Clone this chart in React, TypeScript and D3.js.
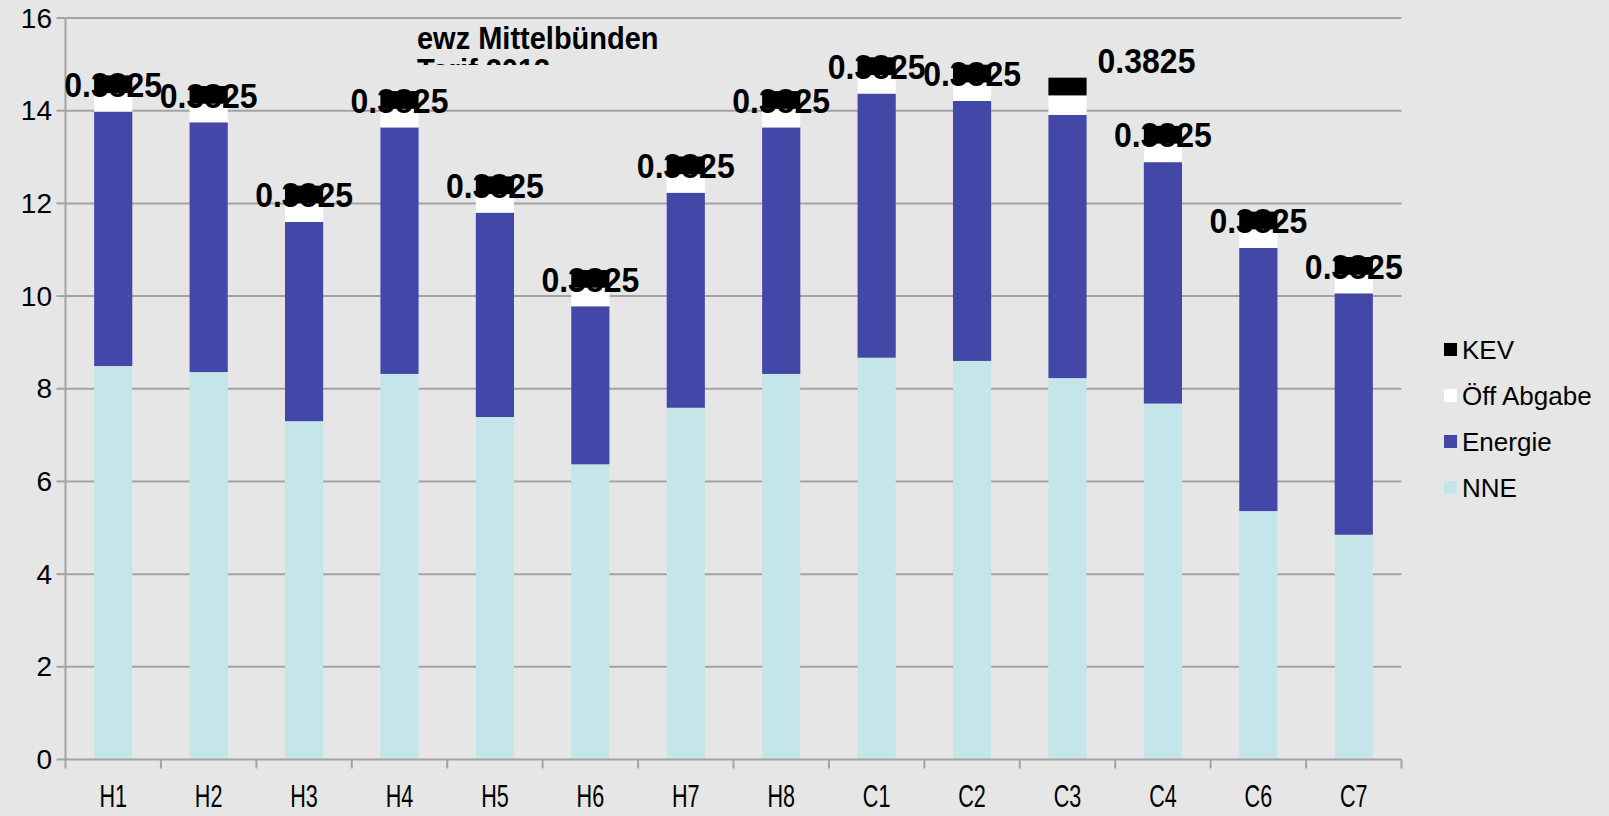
import React from "react";
import * as d3 from "d3";

const categories = ["H1", "H2", "H3", "H4", "H5", "H6", "H7", "H8", "C1", "C2", "C3", "C4", "C6", "C7"];
const nne = [8.49, 8.36, 7.30, 8.32, 7.39, 6.37, 7.59, 8.32, 8.67, 8.60, 8.23, 7.68, 5.36, 4.85];
const energie = [5.49, 5.39, 4.30, 5.32, 4.41, 3.41, 4.64, 5.32, 5.70, 5.61, 5.68, 5.21, 5.68, 5.21];
const oeffAbgabe = [0.4, 0.4, 0.4, 0.4, 0.4, 0.4, 0.4, 0.4, 0.4, 0.4, 0.42, 0.4, 0.4, 0.4];
const kev = [0.3825, 0.3825, 0.3825, 0.3825, 0.3825, 0.3825, 0.3825, 0.3825, 0.3825, 0.3825, 0.3825, 0.3825, 0.3825, 0.3825];
const seriesNames = ["NNE", "Energie", "Öff Abgabe", "KEV"];
const seriesColors = ["#C4E6E8", "#4348A8", "#FFFFFF", "#000000"];
const yTicks = [0, 2, 4, 6, 8, 10, 12, 14, 16];
const titleLines = ["ewz Mittelbünden", "Tarif 2013"];

const W = 1609;
const H = 816;
const left = 65.5;
const right = 1401.5;
const top = 18;
const bottom = 759.5;
const FONT = "'Liberation Sans', Arial, sans-serif";
const GRID = "#A3A3A3";
// the C3 label was moved by hand in the original
const movedLabel = { index: 10, dx: 79, dy: -26 };

export default function App() {
  const x = d3.scaleBand<string>().domain(categories).range([left, right]).paddingInner(0.6).paddingOuter(0.3);
  const y = d3.scaleLinear().domain([0, 16]).range([bottom, top]);
  const series = [nne, energie, oeffAbgabe, kev];
  const table = categories.map((c, i) => {
    const o: any = { cat: c };
    seriesNames.forEach((n, k) => (o[n] = series[k][i]));
    return o;
  });
  const stack = d3.stack<any>().keys(seriesNames)(table);
  const step = x.step();
  const bounds = d3.range(categories.length + 1).map((i) => left + i * step);

  return (
    <svg width={W} height={H} style={{ position: "absolute", left: 0, top: 0, background: "#E6E6E6" }} fontFamily={FONT}>
      <defs>
        <clipPath id="titleclip">
          <rect x={0} y={0} width={W} height={65} />
        </clipPath>
      </defs>
      <rect x={0} y={0} width={W} height={H} fill="#E6E6E6" />
      {yTicks.map((t) => (
        <g key={t}>
          {t > 0 && <line x1={left} x2={right} y1={y(t)} y2={y(t)} stroke={GRID} strokeWidth={2} />}
          <line x1={left - 9} x2={left} y1={y(t)} y2={y(t)} stroke={GRID} strokeWidth={2} />
          <text x={52} y={y(t)} textAnchor="end" dominantBaseline="central" fontSize={28} fill="#000">
            {t}
          </text>
        </g>
      ))}
      {stack.map((s, k) => (
        <g key={seriesNames[k]} fill={seriesColors[k]}>
          {s.map((d, i) => (
            <rect key={i} x={x(categories[i])} width={x.bandwidth()} y={y(d[1])} height={y(d[0]) - y(d[1])} />
          ))}
        </g>
      ))}
      <line x1={left} x2={left} y1={top} y2={bottom} stroke={GRID} strokeWidth={2} />
      <line x1={left} x2={right} y1={bottom} y2={bottom} stroke={GRID} strokeWidth={2} />
      {bounds.map((b, i) => (
        <line key={i} x1={b} x2={b} y1={bottom} y2={bottom + 9} stroke={GRID} strokeWidth={2} />
      ))}
      {categories.map((c) => (
        <text
          key={c}
          transform={`translate(${(x(c) as number) + x.bandwidth() / 2},807) scale(0.9,1.3)`}
          textAnchor="middle"
          fontSize={24}
          fill="#000"
        >
          {c}
        </text>
      ))}
      {stack[3].map((d, i) => {
        const cx = (x(categories[i]) as number) + x.bandwidth() / 2;
        const cy = y((d[0] + d[1]) / 2);
        const moved = i === movedLabel.index;
        const tx = cx + (moved ? movedLabel.dx : 0);
        const ty = cy + (moved ? movedLabel.dy : 0);
        return (
          <text
            key={i}
            transform={`translate(${tx},${ty}) scale(1,1.12)`}
            textAnchor="middle"
            dominantBaseline="central"
            fontWeight="bold"
            fontSize={32}
            fill="#000"
          >
            {kev[i].toString()}
          </text>
        );
      })}
      <g clipPath="url(#titleclip)">
        {titleLines.map((t, i) => (
          <text key={i} transform={`translate(417,${49 + i * 32}) scale(1,1.08)`} fontWeight="bold" fontSize={29} fill="#000">
            {t}
          </text>
        ))}
      </g>
      {[3, 2, 1, 0].map((k, j) => (
        <g key={k} transform={`translate(1444,${350 + j * 46})`}>
          <rect x={0} y={-7} width={13} height={13} fill={seriesColors[k]} />
          <text x={18} y={0} dominantBaseline="central" fontSize={26} fill="#000">
            {seriesNames[k]}
          </text>
        </g>
      ))}
    </svg>
  );
}
